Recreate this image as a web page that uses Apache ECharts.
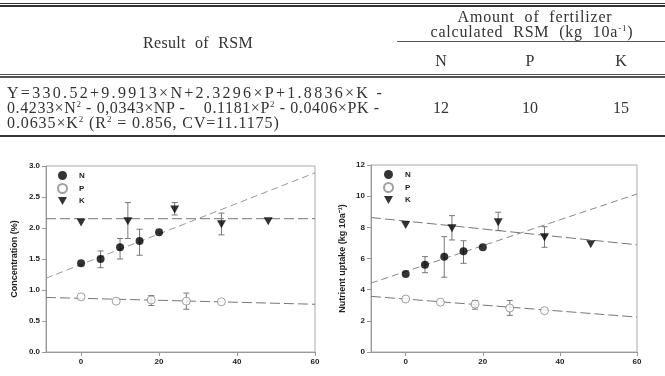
<!DOCTYPE html>
<html>
<head>
<meta charset="utf-8">
<script src="https://cdn.jsdelivr.net/npm/echarts@6/dist/echarts.min.js"></script>
<style>
  html, body { margin: 0; padding: 0; background: #fff; }
  #wrap { position: relative; width: 665px; height: 376px; overflow: hidden; }
  #main { position: absolute; left: 0; top: 0; width: 665px; height: 376px; }
  .tbl { position: absolute; left: 0; top: 0; width: 665px; height: 140px; z-index: 2;
         font-family: "Liberation Serif", "DejaVu Serif", serif; color: #333; }
  .rule { position: absolute; background: #333; }
  .t { position: absolute; white-space: nowrap; font-size: 16px; line-height: 15px; }
  .c { transform: translate(-50%, -50%); }
  .l { transform: translate(0, -50%); }
  sup { font-size: 9px; line-height: 0; vertical-align: 6px; }
</style>
</head>
<body>
<div id="wrap">
  <div id="main"></div>
  <div class="tbl">
    <div class="rule" style="left:0;top:3px;width:665px;height:1px;"></div>
    <div class="rule" style="left:0;top:5px;width:665px;height:2px;"></div>

    <div class="t c" style="left:198px;top:42px;word-spacing:5px;letter-spacing:0.3px;">Result of RSM</div>
    <div class="t c" style="left:535px;top:16px;word-spacing:5px;letter-spacing:0.8px;">Amount of fertilizer</div>
    <div class="t c" style="left:532px;top:31px;word-spacing:5px;letter-spacing:0.8px;">calculated RSM (kg 10a<sup>-1</sup>)</div>
    <div class="rule" style="left:397px;top:41px;width:268px;height:1px;background:#555;"></div>
    <div class="t c" style="left:441px;top:60px;">N</div>
    <div class="t c" style="left:530px;top:60px;">P</div>
    <div class="t c" style="left:621px;top:60px;">K</div>

    <div class="rule" style="left:0;top:74px;width:665px;height:1px;background:#555;"></div>
    <div class="rule" style="left:0;top:76px;width:665px;height:2px;background:#555;"></div>

    <div class="t l" style="left:7px;top:92px;letter-spacing:2.3px;">Y=330.52+9.9913×N+2.3296×P+1.8836×K -</div>
    <div class="t l" style="left:7px;top:107px;letter-spacing:0.6px;">0.4233×N<sup>2</sup> - 0,0343×NP - &nbsp;&nbsp; 0.1181×P<sup>2</sup> - 0.0406×PK -</div>
    <div class="t l" style="left:7px;top:122px;letter-spacing:0.9px;">0.0635×K<sup>2</sup> (R<sup>2</sup> = 0.856, CV=11.1175)</div>
    <div class="t c" style="left:441px;top:107px;">12</div>
    <div class="t c" style="left:530px;top:107px;">10</div>
    <div class="t c" style="left:621px;top:107px;">15</div>

    <div class="rule" style="left:0;top:135px;width:665px;height:2px;"></div>
  </div>
</div>
<script>
// fertilizer rates (x) for each nutrient
var xN = [0, 5, 10, 15, 20];
var xP = [0, 9, 18, 27, 36];
var xK = [0, 12, 24, 36, 48];

// concentration (%)
var concN = [1.43, 1.50, 1.69, 1.79, 1.93];
var concP = [0.89, 0.82, 0.84, 0.82, 0.81];
var concK = [2.09, 2.11, 2.30, 2.06, 2.11];
var concNLo = [null, 1.36, 1.50, 1.56, null];
var concNHi = [null, 1.63, 1.83, 1.98, null];
var concPLo = [null, null, 0.75, 0.69, null];
var concPHi = [null, null, 0.91, 0.95, null];
var concKLo = [null, 1.83, 2.21, 1.89, null];
var concKHi = [null, 2.41, 2.41, 2.24, null];
var concFitN = [[-9, 1.19], [60, 2.89]];
var concFitP = [[-9, 0.88], [60, 0.77]];
var concFitK = [[-9, 2.15], [60, 2.15]];

// nutrient uptake (kg 10a-1)
var upN = [5.01, 5.60, 6.12, 6.46, 6.72];
var upP = [3.40, 3.20, 3.07, 2.82, 2.65];
var upK = [8.15, 7.94, 8.32, 7.36, 6.91];
var upNLo = [null, 5.09, 4.80, 5.69, null];
var upNHi = [null, 6.12, 7.40, 7.14, null];
var upPLo = [null, null, 2.75, 2.35, null];
var upPHi = [null, null, 3.31, 3.31, null];
var upKLo = [null, 7.19, 7.79, 6.72, null];
var upKHi = [null, 8.75, 8.97, 8.04, null];
var upFitN = [[-9, 4.42], [60, 10.14]];
var upFitP = [[-9, 3.57], [60, 2.24]];
var upFitK = [[-9, 8.63], [60, 6.88]];

var xTicks = [0, 20, 40, 60];
var legendNames = ['N', 'P', 'K'];

var triDown = 'path://M0,0L10,0L5,8.7Z';
var labelFont = { fontFamily: 'Liberation Sans', fontWeight: 'bold', fontSize: 8, color: '#222' };

function pts(xs, ys) {
  return xs.map(function (x, i) { return [x, ys[i]]; });
}
function errs(xs, lo, hi) {
  var out = [];
  xs.forEach(function (x, i) {
    if (lo[i] != null) out.push([x, lo[i], hi[i]]);
  });
  return out;
}

function errRender(params, api) {
  var x = api.value(0);
  var a = api.coord([x, api.value(1)]);
  var b = api.coord([x, api.value(2)]);
  var w = 3;
  var st = { stroke: '#777', lineWidth: 1 };
  return {
    type: 'group',
    children: [
      { type: 'line', shape: { x1: a[0], y1: a[1], x2: b[0], y2: b[1] }, style: st },
      { type: 'line', shape: { x1: a[0] - w, y1: a[1], x2: a[0] + w, y2: a[1] }, style: st },
      { type: 'line', shape: { x1: b[0] - w, y1: b[1], x2: b[0] + w, y2: b[1] }, style: st }
    ]
  };
}

function xAxisOf(idx) {
  return {
    type: 'value', gridIndex: idx, min: -9, max: 60,
    axisLine: { onZero: false, lineStyle: { color: '#999' } },
    axisTick: { customValues: xTicks, length: 4, lineStyle: { color: '#999' } },
    axisLabel: Object.assign({ customValues: xTicks, margin: 6 }, labelFont),
    splitLine: { show: false }
  };
}

function yAxisOf(idx, max, interval, name, gap, dec) {
  return {
    type: 'value', gridIndex: idx, min: 0, max: max, interval: interval,
    name: name, nameLocation: 'middle', nameGap: gap,
    nameTextStyle: { fontFamily: 'Liberation Sans', fontWeight: 'bold', fontSize: 9, color: '#222' },
    axisLine: { show: true, onZero: false, lineStyle: { color: '#999' } },
    axisTick: { show: true, length: 4, lineStyle: { color: '#999' } },
    axisLabel: Object.assign({ margin: 6, formatter: function (v) { return v.toFixed(dec); } }, labelFont),
    splitLine: { show: false }
  };
}

function seriesFor(idx, yN, yP, yK, nLo, nHi, pLo, pHi, kLo, kHi, fN, fP, fK, nCol) {
  var base = { xAxisIndex: idx, yAxisIndex: idx };
  var fit = function (d, color, dash) {
    return Object.assign({
      type: 'line', data: d, symbol: 'none', silent: true, z: 1,
      lineStyle: { color: color, width: 1, type: dash }
    }, base);
  };
  var eb = function (d) {
    return Object.assign({
      type: 'custom', data: d, renderItem: errRender, z: 2, silent: true,
      encode: { x: 0, y: [1, 2] }
    }, base);
  };
  return [
    fit(fN, nCol, [7, 4]),
    fit(fP, '#777', [10, 4]),
    fit(fK, '#777', [10, 4]),
    eb(errs(xN, nLo, nHi)),
    eb(errs(xP, pLo, pHi)),
    eb(errs(xK, kLo, kHi)),
    Object.assign({ type: 'scatter', name: 'N', data: pts(xN, yN), symbol: 'circle', symbolSize: 8,
      itemStyle: { color: '#000' }, z: 5 }, base),
    Object.assign({ type: 'scatter', name: 'P', data: pts(xP, yP), symbol: 'circle', symbolSize: 8,
      itemStyle: { color: '#fff', borderColor: '#888', borderWidth: 1 }, z: 5 }, base),
    Object.assign({ type: 'scatter', name: 'K', data: pts(xK, yK), symbol: triDown, symbolSize: [9, 8],
      itemStyle: { color: '#000' }, z: 5 }, base)
  ];
}

function legendAt(left, top) {
  return {
    data: legendNames, orient: 'vertical', left: left, top: top,
    itemWidth: 9, itemHeight: 9, itemGap: 3, selectedMode: false,
    textStyle: { fontFamily: 'Liberation Sans', fontWeight: 'bold', fontSize: 8, color: '#222', padding: [0, 0, 0, 7] }
  };
}

var myChart = echarts.init(document.getElementById('main'));

var option = {
  animation: false,
  backgroundColor: '#fff',
  grid: [
    { left: 46, top: 166, width: 269, height: 186, show: true, borderColor: '#aaa', borderWidth: 1 },
    { left: 371, top: 165, width: 266, height: 187, show: true, borderColor: '#aaa', borderWidth: 1 }
  ],
  legend: [legendAt(52, 166), legendAt(378, 165)],
  xAxis: [xAxisOf(0), xAxisOf(1)],
  yAxis: [
    yAxisOf(0, 3, 0.5, 'Concentration (%)', 27, 1),
    yAxisOf(1, 12, 2, 'Nutrient uptake (kg 10a\u207B\u00B9)', 24, 0)
  ],
  series: []
    .concat(seriesFor(0, concN, concP, concK, concNLo, concNHi, concPLo, concPHi, concKLo, concKHi,
      concFitN, concFitP, concFitK, '#999'))
    .concat(seriesFor(1, upN, upP, upK, upNLo, upNHi, upPLo, upPHi, upKLo, upKHi,
      upFitN, upFitP, upFitK, '#888'))
};

myChart.setOption(option);
</script>
</body>
</html>
